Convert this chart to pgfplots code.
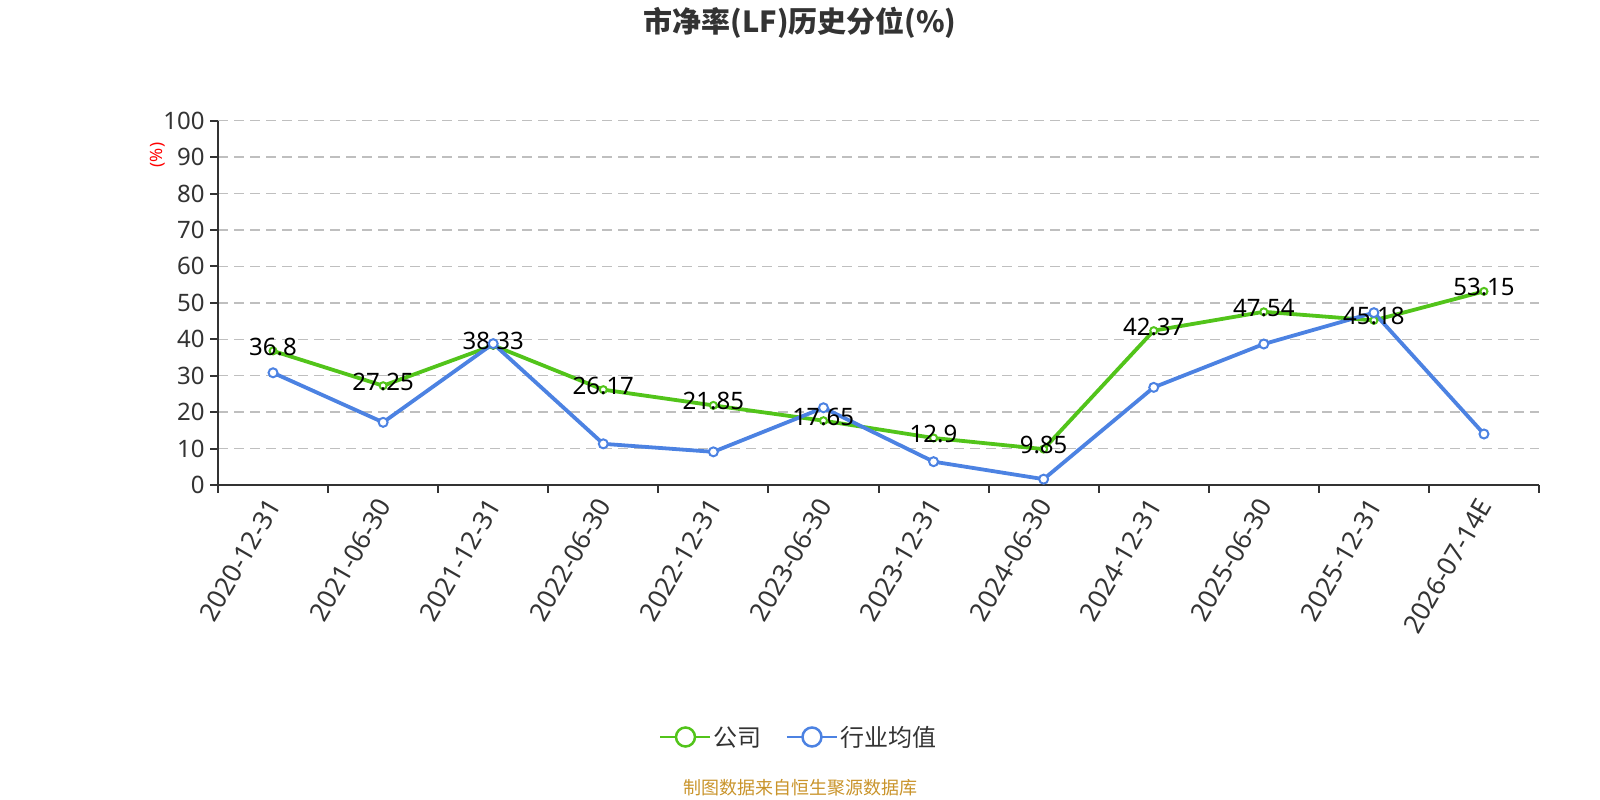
\documentclass[border=0pt]{standalone}
\usepackage{fontspec}
\setmainfont{Noto Sans}
\newfontfamily\cjk{Noto Sans CJK SC}
\usepackage{pgfplots}
\pgfplotsset{compat=1.18}
\definecolor{cgreen}{RGB}{82,196,26}
\definecolor{cblue}{RGB}{76,130,226}
\definecolor{ctext}{RGB}{51,51,51}
\definecolor{cfoot}{RGB}{201,148,43}
\begin{document}
\begin{tikzpicture}[x=1bp,y=1bp]
\useasboundingbox (0,0) rectangle (1600,800);
\node[text=ctext] at (800,777) {\cjk\bfseries\fontsize{29bp}{32bp}\selectfont 市净率(LF)历史分位(\%)};
\node[text=red, rotate=90] at (158,645) {\fontsize{17bp}{19bp}\selectfont (\%)};
\node[text=cfoot] at (800,12) {\cjk\fontsize{18bp}{20bp}\selectfont 制图数据来自恒生聚源数据库};
\begin{axis}[
  at={(218bp,315bp)}, anchor=south west,
  scale only axis, width=1321bp, height=364.3bp,
  xmin=-0.5, xmax=11.5, ymin=0, ymax=100,
  axis x line*=bottom, axis y line*=left,
  axis line style={ctext, line width=2bp, -},
  ytick={0,10,...,100},
  xtick={0,...,11},
  xticklabels={2020-12-31,2021-06-30,2021-12-31,2022-06-30,2022-12-31,2023-06-30,2023-12-31,2024-06-30,2024-12-31,2025-06-30,2025-12-31,2026-07-14E},
  minor xtick={-0.5,0.5,...,11.5},
  tick align=outside,
  major tick length=8bp, minor tick length=8bp,
  major x tick style={draw=none},
  tick style={ctext, line width=2bp},
  minor tick style={ctext, line width=2bp},
  ymajorgrids,
  grid style={color=black!25, line width=1.5bp, dash pattern=on 10bp off 6bp},
  /pgf/number format/assume math mode=true,
  ticklabel style={text=ctext, font=\fontsize{24bp}{28bp}\selectfont},
  xticklabel style={rotate=60, anchor=east, xshift=-3bp, yshift=-5bp, font=\fontsize{26bp}{30bp}\selectfont},
  yticklabel style={xshift=-2bp},
  clip=false,
  legend style={at={(0.4396,-0.6917)}, anchor=center, draw=none, fill=none,
    legend columns=-1, font=\cjk\fontsize{24bp}{28bp}\selectfont, text=ctext,
    /tikz/every even column/.append style={column sep=22bp}},
]
\addplot[cgreen, line width=3.8bp, mark=*, mark size=3.5bp,
  mark options={fill=white, draw=cgreen, line width=2bp},
  nodes near coords, point meta=explicit symbolic,
  every node near coord/.style={anchor=center, yshift=4bp, text=black, font=\fontsize{24bp}{28bp}\selectfont},
  legend image code/.code={\draw[cgreen, line width=2.5bp] (0bp,0bp) -- (50bp,0bp); \draw[cgreen, line width=2.5bp, fill=white] (25bp,0bp) circle (9.5bp);}]
coordinates {(0,36.8)[36.8] (1,27.25)[27.25] (2,38.33)[38.33] (3,26.17)[26.17] (4,21.85)[21.85] (5,17.65)[17.65] (6,12.9)[12.9] (7,9.85)[9.85] (8,42.37)[42.37] (9,47.54)[47.54] (10,45.18)[45.18] (11,53.15)[53.15]};
\addlegendentry{公司}
\addplot[cblue, line width=3.8bp, mark=*, mark size=4.5bp,
  mark options={fill=white, draw=cblue, line width=2bp},
  legend image code/.code={\draw[cblue, line width=2.5bp] (0bp,0bp) -- (50bp,0bp); \draw[cblue, line width=2.5bp, fill=white] (25bp,0bp) circle (9.5bp);}]
coordinates {(0,30.8) (1,17.2) (2,38.8) (3,11.3) (4,9.1) (5,21.2) (6,6.4) (7,1.6) (8,26.8) (9,38.7) (10,47.3) (11,14.0)};
\addlegendentry{行业均值}
\end{axis}
\end{tikzpicture}
\end{document}
